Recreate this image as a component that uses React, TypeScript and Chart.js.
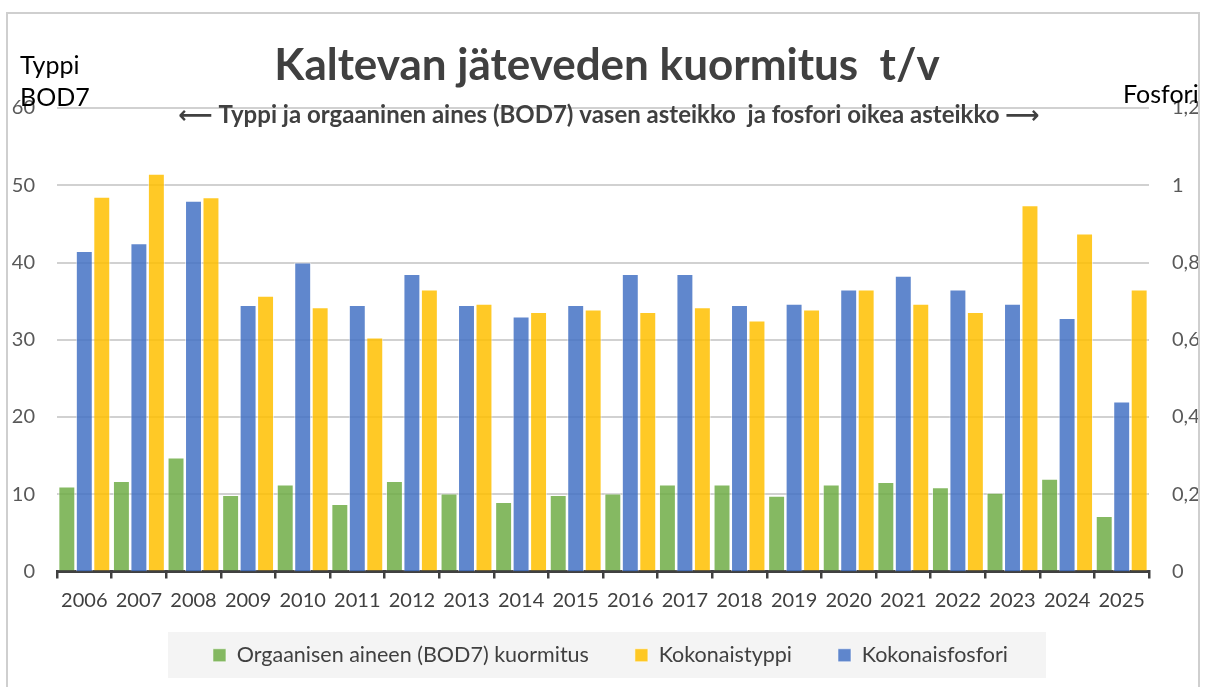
import React, { useEffect, useRef } from "react";
import { Chart, registerables } from "chart.js";

Chart.register(...registerables);

// ---- Data ----
const years = [
  "2006", "2007", "2008", "2009", "2010", "2011", "2012", "2013", "2014", "2015",
  "2016", "2017", "2018", "2019", "2020", "2021", "2022", "2023", "2024", "2025",
];
// Orgaanisen aineen (BOD7) kuormitus, t/v (left axis)
const bod7 = [11.0, 11.7, 14.75, 9.9, 11.25, 8.75, 11.7, 10.1, 9.0, 9.9, 10.1, 11.25, 11.25, 9.8, 11.25, 11.6, 10.9, 10.2, 12.0, 7.2];
// Kokonaistyppi, t/v (left axis)
const typpi = [48.5, 51.5, 48.45, 35.7, 34.2, 30.3, 36.5, 34.65, 33.6, 33.9, 33.6, 34.2, 32.5, 33.9, 36.5, 34.65, 33.6, 47.4, 43.75, 36.5];
// Kokonaisfosfori, t/v (right axis)
const fosfori = [0.83, 0.85, 0.96, 0.69, 0.8, 0.69, 0.77, 0.69, 0.66, 0.69, 0.77, 0.77, 0.69, 0.693, 0.73, 0.766, 0.73, 0.693, 0.656, 0.44];

const seriesNames = ["Orgaanisen aineen (BOD7) kuormitus", "Kokonaisfosfori", "Kokonaistyppi"];
const legendOrder = [0, 2, 1];

const leftMin = 0, leftMax = 60, leftStep = 10;
const rightMin = 0, rightMax = 1.2, rightStep = 0.2;

const titleText = "Kaltevan jäteveden kuormitus  t/v";
const subtitleText = "⟵ Typpi ja orgaaninen aines (BOD7) vasen asteikko  ja fosfori oikea asteikko ⟶";
const leftAxisTitle = ["Typpi", "BOD7"];
const rightAxisTitle = "Fosfori";

const FONT = "Lato, 'Open Sans', sans-serif";

const textPlugin = {
  id: "textOverlay",
  afterLayout(chart: any) {
    const lg = chart.legend;
    if (!lg || !lg.lineWidths || !lg.lineWidths.length) return;
    const p = lg.options.labels.padding;
    const lw = lg.lineWidths[0];
    const W = lw - p;
    const current = (lg.left + p + lg.right - lw) / 2;
    const desired = chart.width / 2 + 8 - W / 2;
    const delta = desired - current;
    lg.left += delta;
    lg.right += delta;
    const h = lg.bottom - lg.top;
    lg.top = 598.5;
    lg.bottom = lg.top + h;
    chart._legendBg = { x: desired - 45, w: W + 83 };
  },
  beforeDraw(chart: any) {
    const ctx = chart.ctx;
    const bg = chart._legendBg;
    if (bg) {
      ctx.save();
      ctx.fillStyle = "#f4f4f4";
      ctx.fillRect(bg.x, 632, bg.w, 46);
      ctx.restore();
    }
  },
  afterDraw(chart: any) {
    const ctx = chart.ctx;
    ctx.save();
    ctx.fillStyle = "#404040";
    ctx.textAlign = "center";
    ctx.textBaseline = "alphabetic";
    ctx.font = `bold 44px ${FONT}`;
    ctx.fillText(titleText, 607, 80);
    ctx.font = `bold 24px ${FONT}, 'DejaVu Sans'`;
    ctx.fillText(subtitleText, 609, 123);
    ctx.fillStyle = "#000000";
    ctx.textAlign = "left";
    ctx.font = `25px ${FONT}`;
    ctx.fillText(leftAxisTitle[0], 20, 74);
    ctx.fillText(leftAxisTitle[1], 20, 106);
    ctx.fillText(rightAxisTitle, 1123, 103);
    ctx.restore();
  },
};

export default function App() {
  const ref = useRef<HTMLCanvasElement | null>(null);

  useEffect(() => {
    if (!ref.current) return;
    const mk = (label: string, data: number[], color: string, axis: string) => ({
      label,
      data,
      yAxisID: axis,
      backgroundColor: color,
      borderColor: "rgba(255,255,255,0.55)",
      borderWidth: 1,
      categoryPercentage: 0.96,
      barPercentage: 0.97,
    });
    const chart = new Chart(ref.current, {
      type: "bar",
      data: {
        labels: years,
        datasets: [
          mk(seriesNames[0], bod7, "rgba(112,173,71,0.85)", "y"),
          mk(seriesNames[1], fosfori, "rgba(68,114,196,0.85)", "y1"),
          mk(seriesNames[2], typpi, "rgba(255,192,0,0.85)", "y"),
        ],
      },
      plugins: [textPlugin],
      options: {
        responsive: false,
        animation: false,
        layout: { padding: { top: 108, bottom: 0, left: 0, right: 0 } },
        plugins: {
          title: { display: false },
          tooltip: { enabled: false },
          legend: {
            display: true,
            position: "bottom",
            labels: {
              boxWidth: 13,
              boxHeight: 13,
              padding: 46,
              color: "#404040",
              font: { family: FONT, size: 21.5 },
              sort: (a: any, b: any) => legendOrder.indexOf(a.datasetIndex) - legendOrder.indexOf(b.datasetIndex),
            },
          },
        },
        scales: {
          x: {
            grid: {
              display: true,
              drawOnChartArea: false,
              drawTicks: true,
              tickLength: 7,
              tickColor: "#404040",
              lineWidth: 2.5,
              offset: true,
            },
            border: { display: true, color: "#404040", width: 3 },
            ticks: {
              color: "#404040",
              font: { family: FONT, size: 20 },
              padding: 10,
              maxRotation: 0,
              autoSkip: false,
            },
            afterFit: (s: any) => { s.height = 38; },
          },
          y: {
            position: "left",
            z: 1,
            min: leftMin,
            max: leftMax,
            grid: { color: "rgba(0,0,0,0.18)", lineWidth: 2, drawTicks: false },
            border: { display: false },
            ticks: {
              stepSize: leftStep,
              color: "#595959",
              font: { family: FONT, size: 20 },
              padding: 22,
            },
            afterFit: (s: any) => { s.width = 57; },
          },
          y1: {
            position: "right",
            min: rightMin,
            max: rightMax,
            grid: { display: false, drawTicks: false },
            border: { display: false },
            ticks: {
              stepSize: rightStep,
              color: "#595959",
              font: { family: FONT, size: 20 },
              padding: 23,
              callback: (v: any) => String(Math.round(Number(v) * 10) / 10).replace(".", ","),
            },
            afterFit: (s: any) => { s.width = 56; },
          },
        },
      },
    } as any);
    return () => chart.destroy();
  }, []);

  return (
    <div style={{ position: "absolute", left: 0, top: 0, width: 1205, height: 687, background: "#fff", overflow: "hidden" }}>
      <canvas ref={ref} width={1205} height={687} style={{ position: "absolute", left: 0, top: 0 }} />
      <div
        style={{
          position: "absolute",
          left: 6,
          top: 12,
          width: 1190,
          height: 720,
          border: "2px solid #cfcfcf",
          pointerEvents: "none",
        }}
      />
    </div>
  );
}
